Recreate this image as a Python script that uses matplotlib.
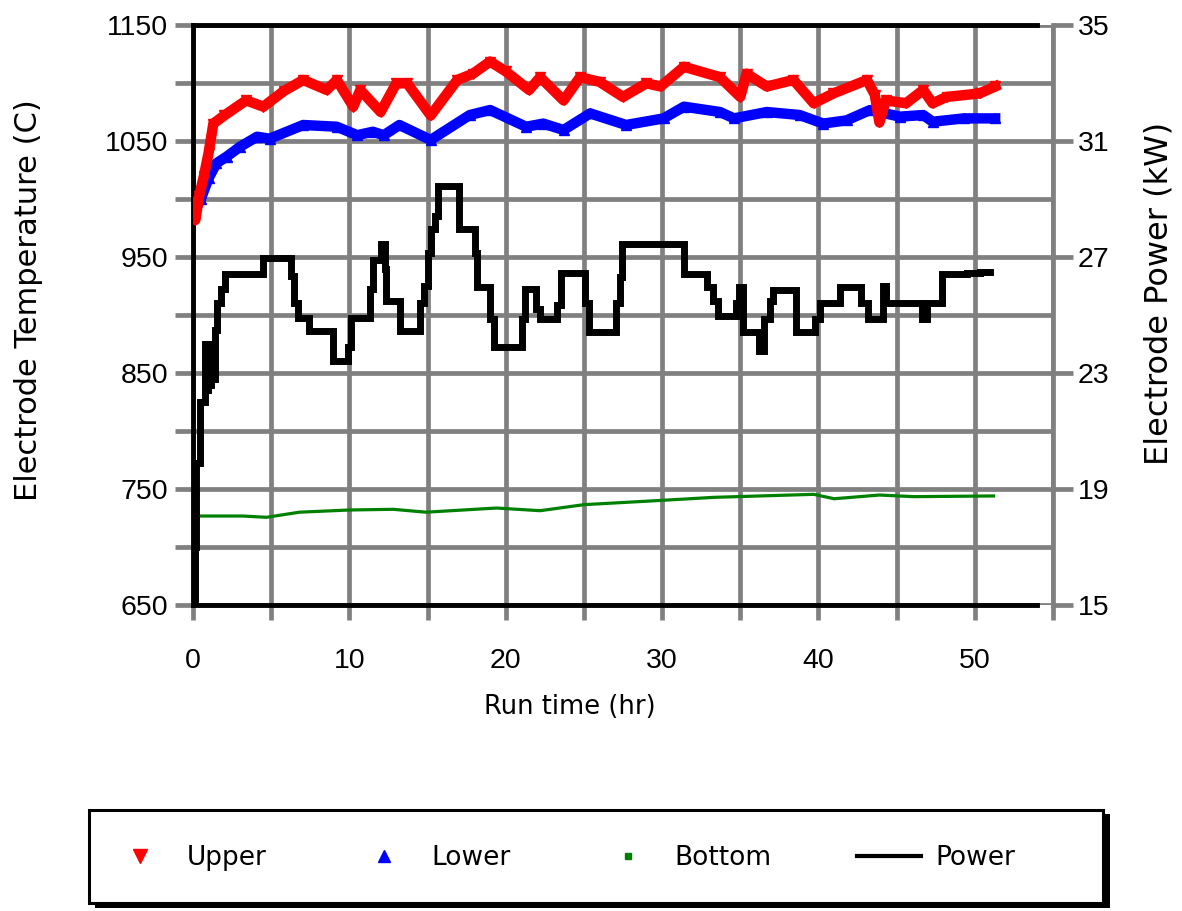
import numpy as np
import matplotlib
matplotlib.use("Agg")
import matplotlib.pyplot as plt
from matplotlib.patches import Rectangle

plt.rcParams['font.family'] = ['DejaVu Sans']

# ---------------- data ----------------
upper_t = [0.0, 0.15, 0.4, 0.7, 1.0, 1.3, 2.0, 3.4, 4.5, 5.8, 7.05, 8.55, 9.2, 10.25, 10.7,
           12.0, 13.0, 13.7, 15.2, 16.9, 17.9, 19.0, 20.0, 21.5, 22.2, 23.7, 24.75, 26.0,
           27.5, 29.0, 29.9, 31.4, 33.7, 35.0, 35.4, 36.7, 38.4, 39.7, 40.95, 43.1, 43.6,
           43.9, 44.3, 45.6, 46.7, 47.3, 48.2, 50.3, 51.3]
upper_v = [997, 982, 1003, 1020, 1040, 1065, 1072, 1085, 1079.6, 1093, 1102.6, 1094, 1102.6,
           1079.6, 1094, 1075, 1099.7, 1099.7, 1072, 1102.6, 1108, 1118.5, 1110, 1094, 1105,
           1085, 1105, 1101, 1088, 1099.7, 1097, 1114, 1105, 1088, 1108, 1097, 1102.6,
           1082.5, 1091, 1102.6, 1090, 1066, 1085, 1082.5, 1094, 1082.5, 1088, 1091, 1097]

lower_t = [0.0, 0.5, 1.0, 1.5, 2.15, 3.0, 4.1, 4.9, 7.05, 9.2, 10.5, 11.5, 12.2, 13.2, 15.2,
           17.7, 19.0, 21.3, 22.4, 23.7, 25.4, 27.7, 30.1, 31.4, 33.7, 34.6, 36.7, 38.8,
           40.3, 41.8, 43.3, 45.2, 46.7, 47.3, 49.3, 51.3]
lower_v = [986, 1000, 1018, 1030.8, 1036.5, 1045, 1053.7, 1052, 1063.8, 1062.3, 1055, 1058,
           1055, 1063.8, 1050.9, 1072.4, 1076.7, 1062.3, 1065, 1059.5, 1073.8, 1063.8,
           1069.5, 1079.6, 1075, 1069.5, 1075, 1072.4, 1065, 1067.8, 1076.7, 1071, 1072.4,
           1066.6, 1069.5, 1069.5]

bottom_t = [0.0, 3.2, 4.7, 6.8, 10.0, 12.8, 14.9, 19.4, 22.2, 25.0, 29.7, 33.3, 39.7, 41.0,
            43.9, 46.1, 51.2]
bottom_v = [726.7, 726.7, 725.6, 730, 731.9, 732.5, 730, 733.6, 731.3, 736.5, 740, 742.8,
            745.4, 741.6, 744.8, 743.4, 744]

power_t = [0.0, 0.1, 0.2, 0.45, 0.75, 0.85, 0.95, 1.05, 1.15, 1.25, 1.4, 1.55, 1.8, 2.05,
           4.5, 6.25, 6.45, 6.7, 7.45, 8.95, 9.9, 10.1, 11.3, 11.5, 12.0, 12.25, 12.35,
           13.25, 14.5, 14.8, 15.05, 15.25, 15.5, 15.7, 17.0, 18.05, 18.15, 19.0, 19.25,
           21.05, 21.25, 21.95, 22.2, 23.25, 23.55, 25.05, 25.35, 27.05, 27.3, 27.45, 31.4,
           32.85, 33.25, 33.55, 34.75, 34.95, 35.15, 36.2, 36.5, 36.9, 37.1, 38.55, 39.75,
           40.1, 41.4, 42.7, 43.2, 44.15, 44.35, 46.6, 46.95, 47.9, 49.5, 50.3, 51.0]
power_v = [15.0, 17.0, 19.9, 22.0, 24.0, 22.4, 24.0, 22.6, 23.6, 22.8, 24.5, 25.4, 25.9, 26.4,
           26.95, 26.35, 25.4, 24.9, 24.45, 23.4, 23.9, 24.9, 25.9, 26.9, 27.45, 26.6, 25.5,
           24.45, 25.4, 26.0, 27.15, 27.95, 28.4, 29.45, 27.96, 27.15, 25.95, 24.85, 23.9,
           24.85, 25.9, 25.2, 24.85, 25.35, 26.45, 25.4, 24.4, 25.4, 26.3, 27.45, 26.4,
           25.95, 25.5, 24.95, 25.4, 25.95, 24.4, 23.75, 24.85, 25.5, 25.85, 24.4, 24.85,
           25.4, 25.95, 25.4, 24.85, 26.0, 25.4, 24.85, 25.4, 26.4, 26.45, 26.5, 26.5]

x_ticks = [0, 5, 10, 15, 20, 25, 30, 35, 40, 45, 50, 55]
x_tick_labels = ['0', '', '10', '', '20', '', '30', '', '40', '', '50', '']
t_ticks = [650, 700, 750, 800, 850, 900, 950, 1000, 1050, 1100, 1150]
t_tick_labels = ['650', '', '750', '', '850', '', '950', '', '1050', '', '1150']
p_ticks = [15, 19, 23, 27, 31, 35]
p_tick_labels = ['15', '19', '23', '27', '31', '35']

series_labels = ['Upper', 'Lower', 'Bottom', 'Power']

# ---------------- figure ----------------
W, H = 1182, 911
fig = plt.figure(figsize=(W / 100, H / 100), dpi=100)
L, R, T, B = 193, 1053, 25, 605
ax = fig.add_axes([L / W, 1 - B / H, (R - L) / W, (B - T) / H])
ax2 = ax.twinx()

GRID = '#808080'
GLW = 3.4
TICKFONT = 'Liberation Sans'

ax.set_xlim(0, 55)
ax.set_ylim(650, 1150)
ax2.set_ylim(15, 35)

ax.set_xticks(x_ticks, x_tick_labels)
ax.set_yticks(t_ticks, t_tick_labels)
ax2.set_yticks(p_ticks, p_tick_labels)

ax.grid(True, color=GRID, lw=GLW)
ax.set_axisbelow(True)

ax.tick_params(axis='x', color=GRID, width=GLW, length=11, pad=20, labelsize=20.5,
               labelfontfamily=TICKFONT)
ax.tick_params(axis='y', color=GRID, width=GLW, length=13, pad=5, labelsize=20.5,
               labelfontfamily=TICKFONT)
ax2.tick_params(axis='y', color=GRID, width=GLW, length=14.5, pad=3.5, labelsize=20.5,
                labelfontfamily=TICKFONT)

for s in ['left', 'top', 'bottom']:
    ax.spines[s].set_color('black')
    ax.spines[s].set_linewidth(3.5)
ax.spines['top'].set_bounds(0, 54)
ax.spines['bottom'].set_bounds(0, 54)
ax.spines['right'].set_visible(False)
for s in ['left', 'top', 'bottom']:
    ax2.spines[s].set_visible(False)
ax2.spines['right'].set_color(GRID)
ax2.spines['right'].set_linewidth(GLW)

l_bottom, = ax.plot(bottom_t, bottom_v, color='#008000', lw=2.3, label=series_labels[2], zorder=3)
l_lower, = ax.plot(lower_t, lower_v, color='#0000ff', lw=7.5, marker='^', ms=7,
                   label=series_labels[1], zorder=4)
l_upper, = ax.plot(upper_t, upper_v, color='#ff0000', lw=7.5, marker='v', ms=7,
                   label=series_labels[0], zorder=5)
l_power, = ax2.plot(power_t, power_v, color='black', lw=5, drawstyle='steps-post',
                    label=series_labels[3], zorder=3, solid_joinstyle='miter')

# axis titles
fig.text(29 / W, 1 - 300 / H, 'Electrode Temperature (C)', rotation=90,
         ha='center', va='center', fontsize=22)
fig.text(1159 / W, 1 - 293 / H, 'Electrode Power (kW)', rotation=90,
         ha='center', va='center', fontsize=23)
fig.text(570 / W, 1 - 707 / H, 'Run time (hr)', ha='center', va='center', fontsize=18.5)

# legend frame with shadow
fig.patches.append(Rectangle((95 / W, 1 - 908 / H), (1110 - 95) / W, (908 - 814) / H,
                             transform=fig.transFigure, facecolor='black', edgecolor='none'))
fig.patches.append(Rectangle((89 / W, 1 - 903 / H), (1103 - 89) / W, (903 - 810) / H,
                             transform=fig.transFigure, facecolor='white', edgecolor='black',
                             lw=2.2))

leg = fig.legend([l_upper, l_lower, l_bottom, l_power], series_labels, ncol=4,
                 loc='center left', bbox_to_anchor=(108.6 / W, 1 - 858 / H),
                 frameon=False, fontsize=19, handlelength=2.4, handletextpad=0.57,
                 columnspacing=3.25, borderpad=0, borderaxespad=0, numpoints=1)
hs = leg.legend_handles
hs[0].set_linestyle('none'); hs[0].set_markersize(10)
hs[1].set_linestyle('none'); hs[1].set_markersize(8.5)
hs[2].set_linestyle('none'); hs[2].set_marker('s'); hs[2].set_markersize(5)
hs[3].set_linewidth(3)

fig.savefig('out.png', dpi=100)
